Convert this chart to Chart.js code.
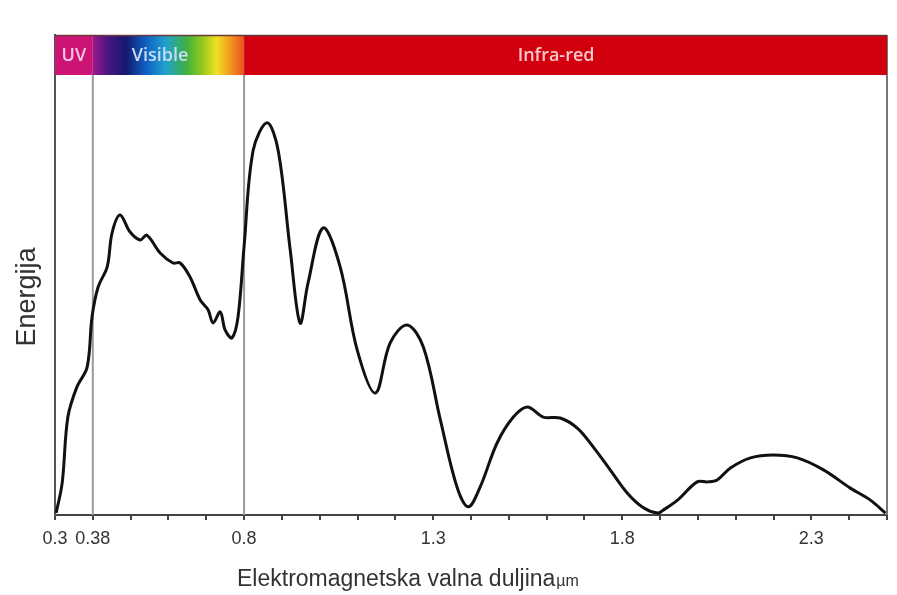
<!DOCTYPE html>
<html>
<head>
<meta charset="utf-8">
<script src="https://cdn.jsdelivr.net/npm/chart.js@4"></script>
<style>
  html, body { margin: 0; padding: 0; background: #fff; }
  #wrap { width: 897px; height: 595px; }
</style>
</head>
<body>
<div id="wrap"><canvas id="spectrum" width="897" height="595"></canvas></div>
<script>
// wavelength (um, on the picture's scale) and energy (relative)
const wavelength = [0.303, 0.319, 0.334, 0.358, 0.385, 0.398, 0.414, 0.438, 0.451, 0.472,
    0.498, 0.525, 0.543, 0.578, 0.612, 0.631, 0.657, 0.684, 0.705, 0.718,
    0.737, 0.750, 0.768, 0.784, 0.800, 0.824, 0.861, 0.890, 0.922, 0.948,
    0.969, 1.009, 1.054, 1.099, 1.147, 1.186, 1.231, 1.274, 1.319, 1.363,
    1.393, 1.424, 1.469, 1.512, 1.549, 1.591, 1.636, 1.681, 1.723, 1.768,
    1.813, 1.856, 1.893, 1.908, 1.946, 1.998, 2.025, 2.051, 2.086, 2.139,
    2.199, 2.263, 2.332, 2.403, 2.456, 2.496];
const energy = [0.4, 6.7, 20.4, 26.7, 30.8, 41.3, 47.5, 51.7, 58.8, 62.5,
    59.0, 57.3, 58.3, 54.6, 52.5, 52.5, 49.6, 44.8, 42.7, 40.0,
    42.3, 38.5, 36.9, 41.3, 56.0, 76.0, 81.7, 76.0, 55.2, 40.0,
    48.3, 59.8, 51.7, 34.4, 25.4, 35.8, 39.6, 35.0, 19.8, 5.8,
    1.7, 5.8, 15.0, 20.4, 22.5, 20.4, 20.2, 18.1, 14.2, 9.4,
    4.6, 1.5, 0.4, 1.0, 3.1, 6.9, 6.9, 7.3, 9.8, 11.9,
    12.5, 11.9, 9.4, 5.6, 3.1, 0.4];

const tickValues = [0.3, 0.4, 0.8, 1.3, 1.8, 2.3];
const tickLabels = ["0.3", "0.38", "0.8", "1.3", "1.8", "2.3"];

// spectrum bands along the top
const bandNames = ["UV", "Visible", "Infra-red"];
const bandStart = [0.3, 0.4, 0.8];
const bandEnd = [0.4, 0.8, 2.5];
const bandLabelAt = [0.35, 0.578, 1.625];

const bandFont = "'Liberation Sans Narrow', 'Open Sans', sans-serif";
const plainFont = "'Liberation Sans', Arial, sans-serif";

const bandsPlugin = {
    id: "bands",
    beforeDatasetsDraw(chart) {
        const ctx = chart.ctx;
        const x = chart.scales.x;
        const area = chart.chartArea;
        const top = area.top, h = 40;
        ctx.save();
        // vertical separators
        ctx.strokeStyle = "#9a9a9a";
        ctx.lineWidth = 2;
        [bandStart[1], bandStart[2]].forEach(function (v) {
            const px = x.getPixelForValue(v);
            ctx.beginPath();
            ctx.moveTo(px, top + h);
            ctx.lineTo(px, area.bottom);
            ctx.stroke();
        });
        // right border
        ctx.strokeStyle = "#777";
        ctx.beginPath();
        ctx.moveTo(area.right, top);
        ctx.lineTo(area.right, area.bottom);
        ctx.stroke();

        for (let i = 0; i < bandNames.length; i++) {
            const x0 = x.getPixelForValue(bandStart[i]);
            const x1 = x.getPixelForValue(bandEnd[i]);
            let fill;
            if (i === 0) fill = "#cc1477";
            else if (i === 2) fill = "#d2000e";
            else {
                fill = ctx.createLinearGradient(x0, 0, x1, 0);
                fill.addColorStop(0, "#9a1a8a");
                fill.addColorStop(0.1, "#4a1480");
                fill.addColorStop(0.22, "#141a6e");
                fill.addColorStop(0.35, "#1060c0");
                fill.addColorStop(0.48, "#20a0d0");
                fill.addColorStop(0.62, "#40b040");
                fill.addColorStop(0.72, "#90c820");
                fill.addColorStop(0.82, "#f0e020");
                fill.addColorStop(0.92, "#f09020");
                fill.addColorStop(1, "#e85020");
            }
            ctx.fillStyle = fill;
            ctx.fillRect(x0, top, x1 - x0, h);
        }
        ctx.strokeStyle = "#6a3a3a";
        ctx.lineWidth = 1.5;
        ctx.beginPath();
        ctx.moveTo(area.left, top + 0.5);
        ctx.lineTo(area.right, top + 0.5);
        ctx.stroke();

        ctx.font = "600 18px " + bandFont;
        ctx.textAlign = "center";
        ctx.textBaseline = "middle";
        const colors = ["#f6c4dc", "#c8dcf6", "#f8c8cc"];
        for (let i = 0; i < bandNames.length; i++) {
            ctx.fillStyle = colors[i];
            ctx.fillText(bandNames[i], x.getPixelForValue(bandLabelAt[i]), top + 21);
        }
        ctx.restore();
    },
    afterDraw(chart) {
        const ctx = chart.ctx;
        ctx.save();
        ctx.fillStyle = "#333";
        ctx.textBaseline = "middle";
        // x title with small unit
        ctx.font = "23px " + plainFont;
        const main = "Elektromagnetska valna duljina";
        ctx.textAlign = "left";
        ctx.fillText(main, 237, 580);
        const w = ctx.measureText(main).width;
        ctx.font = "16px " + plainFont;
        ctx.fillText("µm", 237 + w + 1, 582);
        // y title
        ctx.translate(28, 297);
        ctx.rotate(-Math.PI / 2);
        ctx.textAlign = "center";
        ctx.font = "27px " + plainFont;
        ctx.fillText("Energija", 0, 0);
        ctx.restore();
    }
};

const points = wavelength.map(function (w, i) { return { x: w, y: energy[i] }; });

new Chart(document.getElementById("spectrum"), {
    type: "line",
    data: {
        datasets: [{
            data: points,
            borderColor: "#111",
            borderWidth: 3,
            pointRadius: 0,
            fill: false,
            tension: 0.35
        }]
    },
    options: {
        responsive: false,
        animation: false,
        layout: { padding: { top: 35, right: 10, left: 0, bottom: 0 } },
        plugins: { legend: { display: false }, tooltip: { enabled: false } },
        scales: {
            x: {
                type: "linear",
                min: 0.3,
                max: 2.5,
                afterFit(s) { s.height = 80; },
                afterBuildTicks(s) {
                    const t = [];
                    for (let k = 3; k <= 25; k++) t.push({ value: k / 10 });
                    s.ticks = t;
                },
                ticks: {
                    autoSkip: false,
                    maxRotation: 0,
                    padding: 8,
                    color: "#333",
                    font: { size: 18, family: plainFont },
                    callback(v) {
                        const i = tickValues.findIndex(function (t) { return Math.abs(t - v) < 1e-6; });
                        return i >= 0 ? tickLabels[i] : "";
                    }
                },
                grid: { drawOnChartArea: false, drawTicks: true, tickLength: 5, color: "#444", lineWidth: 2 },
                border: { color: "#444", width: 2 }
            },
            y: {
                min: 0,
                max: 100,
                afterFit(s) { s.width = 55; },
                ticks: { display: false },
                grid: { display: false },
                border: { color: "#555", width: 2 }
            }
        }
    },
    plugins: [bandsPlugin]
});
</script>
</body>
</html>
